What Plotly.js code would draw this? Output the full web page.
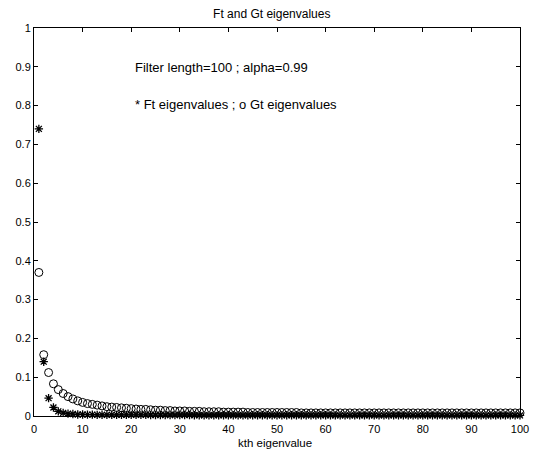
<!DOCTYPE html>
<html>
<head>
<meta charset="utf-8">
<script src="https://cdn.plot.ly/plotly-3.0.1.min.js"></script>
<style>html,body{margin:0;padding:0;background:#fff;}#chart{width:536px;height:453px;}</style>
</head>
<body>
<div id="chart"></div>
<script>
// k index 1..100
const kIndex = Array.from({length: 100}, (_, i) => i + 1);

// Ft eigenvalues (asterisks)
const ftValues = [
  0.740, 0.140, 0.046, 0.022, 0.012, 0.008, 0.006, 0.005, 0.004, 0.004,
  0.0035, 0.0035, 0.003, 0.003, 0.003, 0.003, 0.003, 0.003, 0.003, 0.003,
  0.003, 0.003, 0.003, 0.0025, 0.0025, 0.0025, 0.0025, 0.0025, 0.0025, 0.0025,
  0.0025, 0.0025, 0.002, 0.002, 0.002, 0.002, 0.002, 0.002, 0.002, 0.002,
  0.002, 0.002, 0.002, 0.002, 0.002, 0.002, 0.002, 0.002, 0.002, 0.002,
  0.002, 0.002, 0.002, 0.002, 0.002, 0.002, 0.002, 0.002, 0.002, 0.002,
  0.0015, 0.0015, 0.0015, 0.0015, 0.0015, 0.0015, 0.0015, 0.0015, 0.0015, 0.0015,
  0.0015, 0.0015, 0.0015, 0.0015, 0.0015, 0.0015, 0.0015, 0.0015, 0.0015, 0.0015,
  0.0015, 0.0015, 0.0015, 0.0015, 0.0015, 0.0015, 0.0015, 0.0015, 0.0015, 0.0015,
  0.0015, 0.0015, 0.0015, 0.0015, 0.0015, 0.0015, 0.0015, 0.0015, 0.0015, 0.0015
];

// Gt eigenvalues (open circles)
const gtValues = [
  0.370, 0.158, 0.112, 0.083, 0.068, 0.058, 0.050, 0.044, 0.039, 0.035,
  0.032, 0.030, 0.028, 0.026, 0.024, 0.023, 0.022, 0.021, 0.020, 0.019,
  0.018, 0.017, 0.017, 0.016, 0.015, 0.015, 0.014, 0.014, 0.013, 0.013,
  0.013, 0.012, 0.012, 0.012, 0.011, 0.011, 0.011, 0.011, 0.010, 0.010,
  0.010, 0.010, 0.010, 0.009, 0.009, 0.009, 0.009, 0.009, 0.009, 0.009,
  0.009, 0.009, 0.009, 0.009, 0.008, 0.008, 0.008, 0.008, 0.008, 0.008,
  0.008, 0.008, 0.008, 0.008, 0.008, 0.008, 0.008, 0.008, 0.008, 0.008,
  0.008, 0.008, 0.008, 0.008, 0.008, 0.008, 0.008, 0.008, 0.008, 0.008,
  0.008, 0.008, 0.008, 0.008, 0.008, 0.008, 0.008, 0.008, 0.008, 0.008,
  0.008, 0.008, 0.008, 0.008, 0.008, 0.008, 0.008, 0.008, 0.008, 0.008
];

const xTicks = [0, 10, 20, 30, 40, 50, 60, 70, 80, 90, 100];
const yTicks = [0, 0.1, 0.2, 0.3, 0.4, 0.5, 0.6, 0.7, 0.8, 0.9, 1];
const yTickText = ['0', '0.1', '0.2', '0.3', '0.4', '0.5', '0.6', '0.7', '0.8', '0.9', '1'];

const titleText = 'Ft and Gt eigenvalues';
const xLabel = 'kth eigenvalue';
const note1 = 'Filter length=100 ; alpha=0.99';
const note2 = '* Ft eigenvalues ; o Gt eigenvalues';

const fam = 'Liberation Sans, Arial, sans-serif';
const tickFont = {family: fam, size: 11, color: '#000'};
const titleFont = {family: fam, size: 12, color: '#000'};
const noteFont = {family: fam, size: 13, color: '#000'};
const labelFont = {family: fam, size: 11.5, color: '#000'};

const traces = [
  {
    x: kIndex, y: gtValues, type: 'scatter', mode: 'markers', name: 'Gt',
    marker: {symbol: 'circle-open', size: 8, color: '#000', line: {width: 1, color: '#000'}},
    cliponaxis: false
  },
  {
    x: kIndex, y: ftValues, type: 'scatter', mode: 'markers', name: 'Ft',
    marker: {symbol: 'asterisk-open', size: 7, color: '#000', line: {width: 1.3, color: '#000'}},
    cliponaxis: false
  }
];

const axisCommon = {
  showgrid: false, zeroline: false, showline: true, linecolor: '#000', linewidth: 1,
  mirror: 'ticks', ticks: 'inside', ticklen: 4, tickcolor: '#000', tickwidth: 1,
  tickfont: tickFont
};

const layout = {
  width: 536, height: 453,
  margin: {l: 34, r: 16, t: 28, b: 37},
  paper_bgcolor: '#fff', plot_bgcolor: '#fff',
  showlegend: false,
  font: tickFont,
  title: {text: titleText, font: titleFont, x: 0.507, xanchor: 'center', y: 0.969, yanchor: 'middle'},
  xaxis: Object.assign({}, axisCommon, {
    range: [0, 100], tickvals: xTicks, ticktext: xTicks.map(String),
    ticklabelstandoff: 3
  }),
  yaxis: Object.assign({}, axisCommon, {
    range: [0, 1], tickvals: yTicks, ticktext: yTickText
  }),
  annotations: [
    {x: 20.4, y: 0.898, xref: 'x', yref: 'y', text: note1, showarrow: false, xanchor: 'left', yanchor: 'middle', font: noteFont},
    {x: 20.4, y: 0.802, xref: 'x', yref: 'y', text: note2, showarrow: false, xanchor: 'left', yanchor: 'middle', font: noteFont},
    {x: 0.496, y: -0.0696, xref: 'paper', yref: 'paper', text: xLabel, showarrow: false, xanchor: 'center', yanchor: 'middle', font: labelFont}
  ]
};

Plotly.newPlot('chart', traces, layout, {displayModeBar: false, staticPlot: true});
</script>
</body>
</html>
